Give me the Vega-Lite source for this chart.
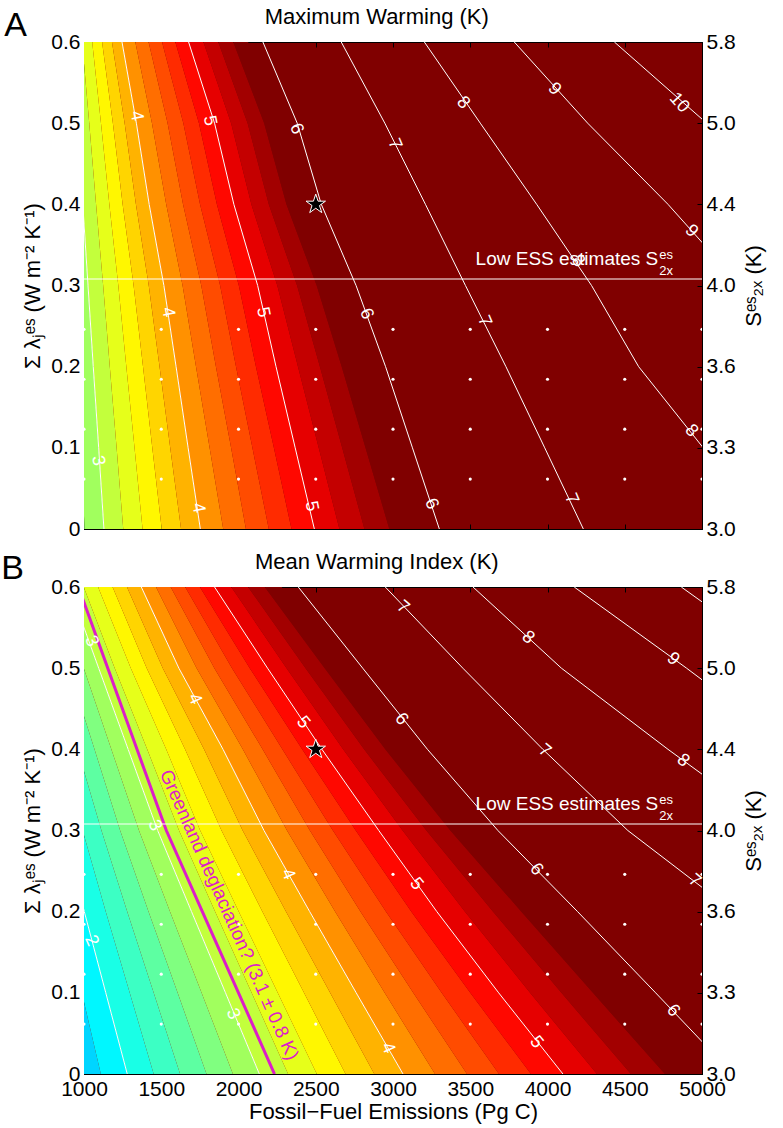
{
"$schema": "https://vega.github.io/schema/vega-lite/v6.json",
"padding": {"left": 0, "top": 5, "right": 5, "bottom": 5},
"spacing": 10,
"datasets": {
"dsIso": [
{"p":"A","l":2.6,"y":0,"x":879},{"p":"A","l":2.6,"y":0.1,"x":863},{"p":"A","l":2.6,"y":0.2,"x":846},{"p":"A","l":2.6,"y":0.3,"x":830},{"p":"A","l":2.6,"y":0.4,"x":820},{"p":"A","l":2.6,"y":0.5,"x":806},{"p":"A","l":2.6,"y":0.6,"x":795},
{"p":"A","l":2.8,"y":0,"x":1004},{"p":"A","l":2.8,"y":0.1,"x":979},{"p":"A","l":2.8,"y":0.2,"x":953},{"p":"A","l":2.8,"y":0.3,"x":928},{"p":"A","l":2.8,"y":0.4,"x":906},{"p":"A","l":2.8,"y":0.5,"x":882},{"p":"A","l":2.8,"y":0.6,"x":860},
{"p":"A","l":3,"y":0,"x":1129},{"p":"A","l":3,"y":0.1,"x":1095},{"p":"A","l":3,"y":0.2,"x":1060},{"p":"A","l":3,"y":0.3,"x":1026},{"p":"A","l":3,"y":0.4,"x":992},{"p":"A","l":3,"y":0.5,"x":958},{"p":"A","l":3,"y":0.6,"x":924},
{"p":"A","l":3.2,"y":0,"x":1254},{"p":"A","l":3.2,"y":0.1,"x":1211},{"p":"A","l":3.2,"y":0.2,"x":1167},{"p":"A","l":3.2,"y":0.3,"x":1124},{"p":"A","l":3.2,"y":0.4,"x":1078},{"p":"A","l":3.2,"y":0.5,"x":1034},{"p":"A","l":3.2,"y":0.6,"x":988},
{"p":"A","l":3.4,"y":0,"x":1379},{"p":"A","l":3.4,"y":0.1,"x":1327},{"p":"A","l":3.4,"y":0.2,"x":1274},{"p":"A","l":3.4,"y":0.3,"x":1222},{"p":"A","l":3.4,"y":0.4,"x":1164},{"p":"A","l":3.4,"y":0.5,"x":1110},{"p":"A","l":3.4,"y":0.6,"x":1053},
{"p":"A","l":3.6,"y":0,"x":1503},{"p":"A","l":3.6,"y":0.1,"x":1442},{"p":"A","l":3.6,"y":0.2,"x":1382},{"p":"A","l":3.6,"y":0.3,"x":1321},{"p":"A","l":3.6,"y":0.4,"x":1250},{"p":"A","l":3.6,"y":0.5,"x":1187},{"p":"A","l":3.6,"y":0.6,"x":1117},
{"p":"A","l":3.8,"y":0,"x":1628},{"p":"A","l":3.8,"y":0.1,"x":1558},{"p":"A","l":3.8,"y":0.2,"x":1489},{"p":"A","l":3.8,"y":0.3,"x":1419},{"p":"A","l":3.8,"y":0.4,"x":1336},{"p":"A","l":3.8,"y":0.5,"x":1263},{"p":"A","l":3.8,"y":0.6,"x":1181},
{"p":"A","l":4,"y":0,"x":1753},{"p":"A","l":4,"y":0.1,"x":1674},{"p":"A","l":4,"y":0.2,"x":1596},{"p":"A","l":4,"y":0.3,"x":1517},{"p":"A","l":4,"y":0.4,"x":1422},{"p":"A","l":4,"y":0.5,"x":1339},{"p":"A","l":4,"y":0.6,"x":1246},
{"p":"A","l":4.2,"y":0,"x":1901},{"p":"A","l":4.2,"y":0.1,"x":1813},{"p":"A","l":4.2,"y":0.2,"x":1725},{"p":"A","l":4.2,"y":0.3,"x":1638},{"p":"A","l":4.2,"y":0.4,"x":1532},{"p":"A","l":4.2,"y":0.5,"x":1440},{"p":"A","l":4.2,"y":0.6,"x":1332},
{"p":"A","l":4.4,"y":0,"x":2048},{"p":"A","l":4.4,"y":0.1,"x":1952},{"p":"A","l":4.4,"y":0.2,"x":1854},{"p":"A","l":4.4,"y":0.3,"x":1759},{"p":"A","l":4.4,"y":0.4,"x":1641},{"p":"A","l":4.4,"y":0.5,"x":1541},{"p":"A","l":4.4,"y":0.6,"x":1418},
{"p":"A","l":4.6,"y":0,"x":2196},{"p":"A","l":4.6,"y":0.1,"x":2090},{"p":"A","l":4.6,"y":0.2,"x":1984},{"p":"A","l":4.6,"y":0.3,"x":1881},{"p":"A","l":4.6,"y":0.4,"x":1751},{"p":"A","l":4.6,"y":0.5,"x":1643},{"p":"A","l":4.6,"y":0.6,"x":1505},
{"p":"A","l":4.8,"y":0,"x":2343},{"p":"A","l":4.8,"y":0.1,"x":2229},{"p":"A","l":4.8,"y":0.2,"x":2113},{"p":"A","l":4.8,"y":0.3,"x":2002},{"p":"A","l":4.8,"y":0.4,"x":1860},{"p":"A","l":4.8,"y":0.5,"x":1744},{"p":"A","l":4.8,"y":0.6,"x":1591},
{"p":"A","l":5,"y":0,"x":2491},{"p":"A","l":5,"y":0.1,"x":2367},{"p":"A","l":5,"y":0.2,"x":2243},{"p":"A","l":5,"y":0.3,"x":2124},{"p":"A","l":5,"y":0.4,"x":1970},{"p":"A","l":5,"y":0.5,"x":1845},{"p":"A","l":5,"y":0.6,"x":1677},
{"p":"A","l":5.2,"y":0,"x":2653},{"p":"A","l":5.2,"y":0.1,"x":2519},{"p":"A","l":5.2,"y":0.2,"x":2385},{"p":"A","l":5.2,"y":0.3,"x":2251},{"p":"A","l":5.2,"y":0.4,"x":2083},{"p":"A","l":5.2,"y":0.5,"x":1952},{"p":"A","l":5.2,"y":0.6,"x":1773},
{"p":"A","l":5.4,"y":0,"x":2815},{"p":"A","l":5.4,"y":0.1,"x":2671},{"p":"A","l":5.4,"y":0.2,"x":2527},{"p":"A","l":5.4,"y":0.3,"x":2379},{"p":"A","l":5.4,"y":0.4,"x":2196},{"p":"A","l":5.4,"y":0.5,"x":2059},{"p":"A","l":5.4,"y":0.6,"x":1869},
{"p":"A","l":5.6,"y":0,"x":2976},{"p":"A","l":5.6,"y":0.1,"x":2822},{"p":"A","l":5.6,"y":0.2,"x":2668},{"p":"A","l":5.6,"y":0.3,"x":2506},{"p":"A","l":5.6,"y":0.4,"x":2310},{"p":"A","l":5.6,"y":0.5,"x":2166},{"p":"A","l":5.6,"y":0.6,"x":1966},
{"p":"A","l":5.8,"y":0,"x":3138},{"p":"A","l":5.8,"y":0.1,"x":2974},{"p":"A","l":5.8,"y":0.2,"x":2810},{"p":"A","l":5.8,"y":0.3,"x":2634},{"p":"A","l":5.8,"y":0.4,"x":2423},{"p":"A","l":5.8,"y":0.5,"x":2273},{"p":"A","l":5.8,"y":0.6,"x":2062},
{"p":"A","l":6,"y":0,"x":3300},{"p":"A","l":6,"y":0.1,"x":3126},{"p":"A","l":6,"y":0.2,"x":2952},{"p":"A","l":6,"y":0.3,"x":2761},{"p":"A","l":6,"y":0.4,"x":2536},{"p":"A","l":6,"y":0.5,"x":2380},{"p":"A","l":6,"y":0.6,"x":2158},
{"p":"A","l":7,"y":0,"x":4232},{"p":"A","l":7,"y":0.1,"x":3982},{"p":"A","l":7,"y":0.2,"x":3731},{"p":"A","l":7,"y":0.3,"x":3469},{"p":"A","l":7,"y":0.4,"x":3210},{"p":"A","l":7,"y":0.5,"x":2947},{"p":"A","l":7,"y":0.6,"x":2665},
{"p":"A","l":8,"y":0,"x":5430},{"p":"A","l":8,"y":0.1,"x":5008},{"p":"A","l":8,"y":0.2,"x":4590},{"p":"A","l":8,"y":0.3,"x":4285},{"p":"A","l":8,"y":0.4,"x":3930},{"p":"A","l":8,"y":0.5,"x":3565},{"p":"A","l":8,"y":0.6,"x":3203},
{"p":"A","l":9,"y":0,"x":6600},{"p":"A","l":9,"y":0.1,"x":6150},{"p":"A","l":9,"y":0.2,"x":5700},{"p":"A","l":9,"y":0.3,"x":5250},{"p":"A","l":9,"y":0.4,"x":4780},{"p":"A","l":9,"y":0.5,"x":4260},{"p":"A","l":9,"y":0.6,"x":3785},
{"p":"A","l":10,"y":0.4,"x":5620},{"p":"A","l":10,"y":0.5,"x":5030},{"p":"A","l":10,"y":0.6,"x":4433},
{"p":"B","l":1.6,"y":0,"x":938},{"p":"B","l":1.6,"y":0.1,"x":831},{"p":"B","l":1.6,"y":0.2,"x":724},{"p":"B","l":1.6,"y":0.3,"x":627},{"p":"B","l":1.6,"y":0.4,"x":522},{"p":"B","l":1.6,"y":0.5,"x":416},{"p":"B","l":1.6,"y":0.6,"x":310},
{"p":"B","l":1.8,"y":0,"x":1109},{"p":"B","l":1.8,"y":0.1,"x":986},{"p":"B","l":1.8,"y":0.2,"x":863},{"p":"B","l":1.8,"y":0.3,"x":749},{"p":"B","l":1.8,"y":0.4,"x":631},{"p":"B","l":1.8,"y":0.5,"x":513},{"p":"B","l":1.8,"y":0.6,"x":395},
{"p":"B","l":2,"y":0,"x":1280},{"p":"B","l":2,"y":0.1,"x":1141},{"p":"B","l":2,"y":0.2,"x":1002},{"p":"B","l":2,"y":0.3,"x":870},{"p":"B","l":2,"y":0.4,"x":740},{"p":"B","l":2,"y":0.5,"x":610},{"p":"B","l":2,"y":0.6,"x":480},
{"p":"B","l":2.2,"y":0,"x":1451},{"p":"B","l":2.2,"y":0.1,"x":1296},{"p":"B","l":2.2,"y":0.2,"x":1141},{"p":"B","l":2.2,"y":0.3,"x":991},{"p":"B","l":2.2,"y":0.4,"x":849},{"p":"B","l":2.2,"y":0.5,"x":707},{"p":"B","l":2.2,"y":0.6,"x":565},
{"p":"B","l":2.4,"y":0,"x":1622},{"p":"B","l":2.4,"y":0.1,"x":1451},{"p":"B","l":2.4,"y":0.2,"x":1280},{"p":"B","l":2.4,"y":0.3,"x":1113},{"p":"B","l":2.4,"y":0.4,"x":958},{"p":"B","l":2.4,"y":0.5,"x":804},{"p":"B","l":2.4,"y":0.6,"x":650},
{"p":"B","l":2.6,"y":0,"x":1793},{"p":"B","l":2.6,"y":0.1,"x":1606},{"p":"B","l":2.6,"y":0.2,"x":1418},{"p":"B","l":2.6,"y":0.3,"x":1234},{"p":"B","l":2.6,"y":0.4,"x":1068},{"p":"B","l":2.6,"y":0.5,"x":901},{"p":"B","l":2.6,"y":0.6,"x":735},
{"p":"B","l":2.8,"y":0,"x":1964},{"p":"B","l":2.8,"y":0.1,"x":1761},{"p":"B","l":2.8,"y":0.2,"x":1557},{"p":"B","l":2.8,"y":0.3,"x":1356},{"p":"B","l":2.8,"y":0.4,"x":1177},{"p":"B","l":2.8,"y":0.5,"x":998},{"p":"B","l":2.8,"y":0.6,"x":820},
{"p":"B","l":3,"y":0,"x":2135},{"p":"B","l":3,"y":0.1,"x":1916},{"p":"B","l":3,"y":0.2,"x":1696},{"p":"B","l":3,"y":0.3,"x":1477},{"p":"B","l":3,"y":0.4,"x":1286},{"p":"B","l":3,"y":0.5,"x":1095},{"p":"B","l":3,"y":0.6,"x":905},
{"p":"B","l":3.2,"y":0,"x":2321},{"p":"B","l":3.2,"y":0.1,"x":2085},{"p":"B","l":3.2,"y":0.2,"x":1849},{"p":"B","l":3.2,"y":0.3,"x":1615},{"p":"B","l":3.2,"y":0.4,"x":1409},{"p":"B","l":3.2,"y":0.5,"x":1199},{"p":"B","l":3.2,"y":0.6,"x":998},
{"p":"B","l":3.4,"y":0,"x":2507},{"p":"B","l":3.4,"y":0.1,"x":2254},{"p":"B","l":3.4,"y":0.2,"x":2002},{"p":"B","l":3.4,"y":0.3,"x":1752},{"p":"B","l":3.4,"y":0.4,"x":1532},{"p":"B","l":3.4,"y":0.5,"x":1303},{"p":"B","l":3.4,"y":0.6,"x":1091},
{"p":"B","l":3.6,"y":0,"x":2693},{"p":"B","l":3.6,"y":0.1,"x":2424},{"p":"B","l":3.6,"y":0.2,"x":2155},{"p":"B","l":3.6,"y":0.3,"x":1890},{"p":"B","l":3.6,"y":0.4,"x":1654},{"p":"B","l":3.6,"y":0.5,"x":1406},{"p":"B","l":3.6,"y":0.6,"x":1185},
{"p":"B","l":3.8,"y":0,"x":2879},{"p":"B","l":3.8,"y":0.1,"x":2593},{"p":"B","l":3.8,"y":0.2,"x":2308},{"p":"B","l":3.8,"y":0.3,"x":2027},{"p":"B","l":3.8,"y":0.4,"x":1777},{"p":"B","l":3.8,"y":0.5,"x":1510},{"p":"B","l":3.8,"y":0.6,"x":1278},
{"p":"B","l":4,"y":0,"x":3065},{"p":"B","l":4,"y":0.1,"x":2762},{"p":"B","l":4,"y":0.2,"x":2461},{"p":"B","l":4,"y":0.3,"x":2165},{"p":"B","l":4,"y":0.4,"x":1900},{"p":"B","l":4,"y":0.5,"x":1614},{"p":"B","l":4,"y":0.6,"x":1371},
{"p":"B","l":4.2,"y":0,"x":3272},{"p":"B","l":4.2,"y":0.1,"x":2946},{"p":"B","l":4.2,"y":0.2,"x":2626},{"p":"B","l":4.2,"y":0.3,"x":2314},{"p":"B","l":4.2,"y":0.4,"x":2028},{"p":"B","l":4.2,"y":0.5,"x":1729},{"p":"B","l":4.2,"y":0.6,"x":1466},
{"p":"B","l":4.4,"y":0,"x":3479},{"p":"B","l":4.4,"y":0.1,"x":3131},{"p":"B","l":4.4,"y":0.2,"x":2790},{"p":"B","l":4.4,"y":0.3,"x":2462},{"p":"B","l":4.4,"y":0.4,"x":2156},{"p":"B","l":4.4,"y":0.5,"x":1844},{"p":"B","l":4.4,"y":0.6,"x":1561},
{"p":"B","l":4.6,"y":0,"x":3686},{"p":"B","l":4.6,"y":0.1,"x":3315},{"p":"B","l":4.6,"y":0.2,"x":2955},{"p":"B","l":4.6,"y":0.3,"x":2611},{"p":"B","l":4.6,"y":0.4,"x":2284},{"p":"B","l":4.6,"y":0.5,"x":1958},{"p":"B","l":4.6,"y":0.6,"x":1655},
{"p":"B","l":4.8,"y":0,"x":3893},{"p":"B","l":4.8,"y":0.1,"x":3500},{"p":"B","l":4.8,"y":0.2,"x":3119},{"p":"B","l":4.8,"y":0.3,"x":2759},{"p":"B","l":4.8,"y":0.4,"x":2412},{"p":"B","l":4.8,"y":0.5,"x":2073},{"p":"B","l":4.8,"y":0.6,"x":1750},
{"p":"B","l":5,"y":0,"x":4100},{"p":"B","l":5,"y":0.1,"x":3684},{"p":"B","l":5,"y":0.2,"x":3284},{"p":"B","l":5,"y":0.3,"x":2908},{"p":"B","l":5,"y":0.4,"x":2540},{"p":"B","l":5,"y":0.5,"x":2188},{"p":"B","l":5,"y":0.6,"x":1845},
{"p":"B","l":5.2,"y":0,"x":4320},{"p":"B","l":5.2,"y":0.1,"x":3887},{"p":"B","l":5.2,"y":0.2,"x":3466},{"p":"B","l":5.2,"y":0.3,"x":3062},{"p":"B","l":5.2,"y":0.4,"x":2677},{"p":"B","l":5.2,"y":0.5,"x":2311},{"p":"B","l":5.2,"y":0.6,"x":1953},
{"p":"B","l":5.4,"y":0,"x":4540},{"p":"B","l":5.4,"y":0.1,"x":4090},{"p":"B","l":5.4,"y":0.2,"x":3648},{"p":"B","l":5.4,"y":0.3,"x":3216},{"p":"B","l":5.4,"y":0.4,"x":2813},{"p":"B","l":5.4,"y":0.5,"x":2434},{"p":"B","l":5.4,"y":0.6,"x":2062},
{"p":"B","l":5.6,"y":0,"x":4760},{"p":"B","l":5.6,"y":0.1,"x":4294},{"p":"B","l":5.6,"y":0.2,"x":3831},{"p":"B","l":5.6,"y":0.3,"x":3371},{"p":"B","l":5.6,"y":0.4,"x":2950},{"p":"B","l":5.6,"y":0.5,"x":2558},{"p":"B","l":5.6,"y":0.6,"x":2170},
{"p":"B","l":5.8,"y":0,"x":4980},{"p":"B","l":5.8,"y":0.1,"x":4497},{"p":"B","l":5.8,"y":0.2,"x":4013},{"p":"B","l":5.8,"y":0.3,"x":3525},{"p":"B","l":5.8,"y":0.4,"x":3086},{"p":"B","l":5.8,"y":0.5,"x":2681},{"p":"B","l":5.8,"y":0.6,"x":2279},
{"p":"B","l":6,"y":0,"x":5200},{"p":"B","l":6,"y":0.1,"x":4700},{"p":"B","l":6,"y":0.2,"x":4195},{"p":"B","l":6,"y":0.3,"x":3679},{"p":"B","l":6,"y":0.4,"x":3223},{"p":"B","l":6,"y":0.5,"x":2804},{"p":"B","l":6,"y":0.6,"x":2387},
{"p":"B","l":7,"y":0,"x":6600},{"p":"B","l":7,"y":0.1,"x":5900},{"p":"B","l":7,"y":0.2,"x":5206},{"p":"B","l":7,"y":0.3,"x":4520},{"p":"B","l":7,"y":0.4,"x":3970},{"p":"B","l":7,"y":0.5,"x":3452},{"p":"B","l":7,"y":0.6,"x":2950},
{"p":"B","l":8,"y":0.3,"x":5500},{"p":"B","l":8,"y":0.4,"x":4780},{"p":"B","l":8,"y":0.5,"x":4090},{"p":"B","l":8,"y":0.6,"x":3518},
{"p":"B","l":9,"y":0.4,"x":5600},{"p":"B","l":9,"y":0.5,"x":4900},{"p":"B","l":9,"y":0.6,"x":4173},
{"p":"B","l":10,"y":0.5,"x":5600},{"p":"B","l":10,"y":0.6,"x":4866}
],
"dsLab": [
{"p":"A","l":4,"x":1339,"y":0.509},{"p":"A","l":5,"x":1813,"y":0.503},{"p":"A","l":6,"x":2374,"y":0.493},{"p":"A","l":7,"x":3010,"y":0.474},{"p":"A","l":8,"x":3453,"y":0.525},{"p":"A","l":9,"x":4044,"y":0.542},{"p":"A","l":10,"x":4853,"y":0.525},{"p":"A","l":9,"x":4931,"y":0.367},{"p":"A","l":8,"x":4197,"y":0.33},{"p":"A","l":8,"x":4931,"y":0.121},{"p":"A","l":7,"x":3591,"y":0.256},{"p":"A","l":7,"x":4154,"y":0.037},{"p":"A","l":6,"x":3248,"y":0.031},{"p":"A","l":6,"x":2827,"y":0.265},{"p":"A","l":5,"x":2158,"y":0.267},{"p":"A","l":5,"x":2471,"y":0.028},{"p":"A","l":4,"x":1543,"y":0.267},{"p":"A","l":4,"x":1738,"y":0.026},{"p":"A","l":3,"x":1090,"y":0.084},
{"p":"B","l":3,"x":1047,"y":0.533},{"p":"B","l":4,"x":1716,"y":0.462},{"p":"B","l":5,"x":2417,"y":0.433},{"p":"B","l":6,"x":3054,"y":0.437},{"p":"B","l":7,"x":3064,"y":0.575},{"p":"B","l":8,"x":3874,"y":0.5375},{"p":"B","l":9,"x":4812,"y":0.511},{"p":"B","l":7,"x":3981,"y":0.398},{"p":"B","l":8,"x":4877,"y":0.386},{"p":"B","l":6,"x":3927,"y":0.252},{"p":"B","l":7,"x":4952,"y":0.238},{"p":"B","l":5,"x":3151,"y":0.234},{"p":"B","l":6,"x":4812,"y":0.078},{"p":"B","l":5,"x":3927,"y":0.039},{"p":"B","l":4,"x":2320,"y":0.246},{"p":"B","l":4,"x":2967,"y":0.032},{"p":"B","l":3,"x":1964,"y":0.074},{"p":"B","l":3,"x":1457,"y":0.306},{"p":"B","l":2,"x":1047,"y":0.164}
],
"dsDots": [
{"x":1000,"y":0.0615},{"x":1500,"y":0.0615},{"x":2000,"y":0.0615},{"x":2500,"y":0.0615},{"x":3000,"y":0.0615},{"x":3500,"y":0.0615},{"x":4000,"y":0.0615},{"x":4500,"y":0.0615},{"x":5000,"y":0.0615},
{"x":1000,"y":0.123},{"x":1500,"y":0.123},{"x":2000,"y":0.123},{"x":2500,"y":0.123},{"x":3000,"y":0.123},{"x":3500,"y":0.123},{"x":4000,"y":0.123},{"x":4500,"y":0.123},{"x":5000,"y":0.123},
{"x":1000,"y":0.1845},{"x":1500,"y":0.1845},{"x":2000,"y":0.1845},{"x":2500,"y":0.1845},{"x":3000,"y":0.1845},{"x":3500,"y":0.1845},{"x":4000,"y":0.1845},{"x":4500,"y":0.1845},{"x":5000,"y":0.1845},
{"x":1000,"y":0.246},{"x":1500,"y":0.246},{"x":2000,"y":0.246},{"x":2500,"y":0.246},{"x":3000,"y":0.246},{"x":3500,"y":0.246},{"x":4000,"y":0.246},{"x":4500,"y":0.246},{"x":5000,"y":0.246}
],
"dsGl": [{"y":0,"x":2233},{"y":0.1,"x":2000},{"y":0.2,"x":1766},{"y":0.3,"x":1533},{"y":0.4,"x":1343},{"y":0.5,"x":1154},{"y":0.6,"x":964}],
"dsStar": [{"x":2500,"y":0.4}],
"dsEss": [{"x":1000,"y":0.308},{"x":5000,"y":0.308}],
"dsNote": [{"x":4717,"y":0.325}],
"dsTtl": [{"x":2895,"y":0.6222}],
"dsLetA": [{"x":484,"y":0.6074}],
"dsLetB": [{"x":465,"y":0.6099}],
"dsGtxt": [{"x":1940,"y":0.196}]
},
"vconcat": [
{
"width": 618, "height": 487,
"view": {"fill": "#800000", "stroke": "#000000", "strokeWidth": 1},
"resolve": {"axis": {"x": "independent", "y": "independent"}},
"layer": [
{"data": {"name": "dsIso"},
 "transform": [{"filter": "datum.p == 'A' && datum.l <= 5.8"},{"window": [{"op": "lead", "field": "x", "as": "xn"}], "groupby": ["y"], "sort": [{"field": "l", "order": "ascending"}]},{"filter": "datum.xn != null"}],
 "mark": {"type": "area", "orient": "horizontal", "clip": true},
 "encoding": {
  "y": {"field": "y", "type": "quantitative", "scale": {"domain": [0, 0.6], "nice": false, "zero": false}, "axis": {"orient": "left", "values": [0,0.1,0.2,0.3,0.4,0.5,0.6], "format": ".1~f", "title": "Σ λⱼᵉˢ (W m⁻² K⁻¹)", "titlePadding": 6, "tickSize": -5, "labelPadding": 9, "labelFontSize": 21, "titleFontSize": 22, "titleFontWeight": "normal", "labelFont": "Liberation Sans", "titleFont": "Liberation Sans", "labelColor": "#000", "titleColor": "#000", "domainColor": "#000", "tickColor": "#000", "labelFlush": false, "grid": false}},
  "x": {"field": "x", "type": "quantitative", "scale": {"domain": [1000, 5000], "nice": false, "zero": false}, "axis": {"orient": "bottom", "values": [1000,1500,2000,2500,3000,3500,4000,4500,5000], "labels": false, "title": null, "tickSize": -5, "domainColor": "#000", "tickColor": "#000", "grid": false}},
  "x2": {"field": "xn"},
  "color": {"field": "l", "type": "quantitative", "scale": {"type": "linear", "domain": [-0.4, 0.35, 1.85, 3.35, 4.85, 5.6], "range": ["#000080","#0000ff","#00ffff","#ffff00","#ff0000","#800000"], "interpolate": "rgb", "clamp": true}, "legend": null},
  "detail": {"field": "l", "type": "quantitative"}
 }},
{"data": {"name": "dsIso"},
 "transform": [{"filter": "datum.p == 'A' && datum.l % 1 == 0"}],
 "mark": {"type": "line", "clip": true, "color": "white", "strokeWidth": 1},
 "encoding": {
  "x": {"field": "x", "type": "quantitative", "scale": {"domain": [1000, 5000], "nice": false, "zero": false}, "axis": {"orient": "top", "values": [1000,1500,2000,2500,3000,3500,4000,4500,5000], "labels": false, "title": null, "tickSize": -5, "domainColor": "#000", "tickColor": "#000", "grid": false}},
  "y": {"field": "y", "type": "quantitative", "scale": {"domain": [0, 0.6], "nice": false, "zero": false}, "axis": {"orient": "right", "values": [0,0.1,0.2,0.3,0.4,0.5,0.6], "labelExpr": "datum.value < 0.05 ? '3.0' : datum.value < 0.15 ? '3.3' : datum.value < 0.25 ? '3.6' : datum.value < 0.35 ? '4.0' : datum.value < 0.45 ? '4.4' : datum.value < 0.55 ? '5.0' : '5.8'", "title": "Sᵉˢ₂ₓ (K)", "titleAngle": 270, "titleBaseline": "top", "titlePadding": 8, "tickSize": -5, "labelPadding": 9, "labelFontSize": 21, "titleFontSize": 22, "titleFontWeight": "normal", "labelFont": "Liberation Sans", "titleFont": "Liberation Sans", "labelColor": "#000", "titleColor": "#000", "domainColor": "#000", "tickColor": "#000", "labelFlush": false, "grid": false}},
  "detail": {"field": "l", "type": "nominal"}
 }},
{"data": {"name": "dsDots"},
 "mark": {"type": "point", "filled": true, "color": "white", "size": 10, "opacity": 1, "clip": true},
 "encoding": {
  "x": {"field": "x", "type": "quantitative", "scale": {"domain": [1000, 5000], "nice": false, "zero": false}, "axis": null},
  "y": {"field": "y", "type": "quantitative", "scale": {"domain": [0, 0.6], "nice": false, "zero": false}, "axis": null}
 }},
{"data": {"name": "dsEss"},
 "mark": {"type": "line", "color": "white", "strokeWidth": 1},
 "encoding": {
  "x": {"field": "x", "type": "quantitative", "scale": {"domain": [1000, 5000], "nice": false, "zero": false}, "axis": null},
  "y": {"field": "y", "type": "quantitative", "scale": {"domain": [0, 0.6], "nice": false, "zero": false}, "axis": null}
 }},
{"data": {"name": "dsStar"},
 "mark": {"type": "point", "shape": "M0,-1L0.2245,-0.309L0.951,-0.309L0.363,0.118L0.588,0.809L0,0.382L-0.588,0.809L-0.363,0.118L-0.951,-0.309L-0.2245,-0.309Z", "filled": true, "fill": "black", "stroke": "white", "strokeWidth": 1, "size": 420, "opacity": 1},
 "encoding": {
  "x": {"field": "x", "type": "quantitative", "scale": {"domain": [1000, 5000], "nice": false, "zero": false}, "axis": null},
  "y": {"field": "y", "type": "quantitative", "scale": {"domain": [0, 0.6], "nice": false, "zero": false}, "axis": null}
 }},
{"data": {"name": "dsLab"},
 "transform": [{"filter": "datum.p == 'A' && datum.l <= 5"}],
 "mark": {"type": "text", "color": "white", "font": "Liberation Sans", "fontSize": 18, "align": "center", "baseline": "middle", "angle": 79},
 "encoding": {
  "x": {"field": "x", "type": "quantitative", "scale": {"domain": [1000, 5000], "nice": false, "zero": false}, "axis": null},
  "y": {"field": "y", "type": "quantitative", "scale": {"domain": [0, 0.6], "nice": false, "zero": false}, "axis": null},
  "text": {"field": "l", "type": "quantitative", "format": "d"}
 }},
{"data": {"name": "dsLab"},
 "transform": [{"filter": "datum.p == 'A' && datum.l >= 6 && datum.l <= 7"}],
 "mark": {"type": "text", "color": "white", "font": "Liberation Sans", "fontSize": 18, "align": "center", "baseline": "middle", "angle": 67},
 "encoding": {
  "x": {"field": "x", "type": "quantitative", "scale": {"domain": [1000, 5000], "nice": false, "zero": false}, "axis": null},
  "y": {"field": "y", "type": "quantitative", "scale": {"domain": [0, 0.6], "nice": false, "zero": false}, "axis": null},
  "text": {"field": "l", "type": "quantitative", "format": "d"}
 }},
{"data": {"name": "dsLab"},
 "transform": [{"filter": "datum.p == 'A' && datum.l >= 8"}],
 "mark": {"type": "text", "color": "white", "font": "Liberation Sans", "fontSize": 18, "align": "center", "baseline": "middle", "angle": 48},
 "encoding": {
  "x": {"field": "x", "type": "quantitative", "scale": {"domain": [1000, 5000], "nice": false, "zero": false}, "axis": null},
  "y": {"field": "y", "type": "quantitative", "scale": {"domain": [0, 0.6], "nice": false, "zero": false}, "axis": null},
  "text": {"field": "l", "type": "quantitative", "format": "d"}
 }},
{"data": {"name": "dsNote"},
 "mark": {"type": "text", "text": "Low ESS estimates S", "color": "white", "font": "Liberation Sans", "fontSize": 19, "align": "right", "baseline": "alphabetic"},
 "encoding": {
  "x": {"field": "x", "type": "quantitative", "scale": {"domain": [1000, 5000], "nice": false, "zero": false}, "axis": null},
  "y": {"field": "y", "type": "quantitative", "scale": {"domain": [0, 0.6], "nice": false, "zero": false}, "axis": null}
 }},
{"data": {"name": "dsNote"},
 "mark": {"type": "text", "text": "es", "color": "white", "font": "Liberation Sans", "fontSize": 13, "align": "left", "baseline": "alphabetic", "dx": 1, "dy": -6},
 "encoding": {
  "x": {"field": "x", "type": "quantitative", "scale": {"domain": [1000, 5000], "nice": false, "zero": false}, "axis": null},
  "y": {"field": "y", "type": "quantitative", "scale": {"domain": [0, 0.6], "nice": false, "zero": false}, "axis": null}
 }},
{"data": {"name": "dsNote"},
 "mark": {"type": "text", "text": "2x", "color": "white", "font": "Liberation Sans", "fontSize": 13, "align": "left", "baseline": "alphabetic", "dx": 1, "dy": 10},
 "encoding": {
  "x": {"field": "x", "type": "quantitative", "scale": {"domain": [1000, 5000], "nice": false, "zero": false}, "axis": null},
  "y": {"field": "y", "type": "quantitative", "scale": {"domain": [0, 0.6], "nice": false, "zero": false}, "axis": null}
 }},
{"data": {"name": "dsTtl"},
 "mark": {"type": "text", "text": "Maximum Warming (K)", "color": "black", "font": "Liberation Sans", "fontSize": 22, "align": "center", "baseline": "alphabetic"},
 "encoding": {
  "x": {"field": "x", "type": "quantitative", "scale": {"domain": [1000, 5000], "nice": false, "zero": false}, "axis": null},
  "y": {"field": "y", "type": "quantitative", "scale": {"domain": [0, 0.6], "nice": false, "zero": false}, "axis": null}
 }},
{"data": {"name": "dsLetA"},
 "mark": {"type": "text", "text": "A", "color": "black", "font": "Liberation Sans", "fontSize": 34, "align": "left", "baseline": "alphabetic"},
 "encoding": {
  "x": {"field": "x", "type": "quantitative", "scale": {"domain": [1000, 5000], "nice": false, "zero": false}, "axis": null},
  "y": {"field": "y", "type": "quantitative", "scale": {"domain": [0, 0.6], "nice": false, "zero": false}, "axis": null}
 }}
]
},
{
"width": 618, "height": 487,
"view": {"fill": "#800000", "stroke": "#000000", "strokeWidth": 1},
"resolve": {"axis": {"x": "independent", "y": "independent"}},
"layer": [
{"data": {"name": "dsIso"},
 "transform": [{"filter": "datum.p == 'B' && datum.l <= 5.8"},{"window": [{"op": "lead", "field": "x", "as": "xn"}], "groupby": ["y"], "sort": [{"field": "l", "order": "ascending"}]},{"filter": "datum.xn != null"}],
 "mark": {"type": "area", "orient": "horizontal", "clip": true},
 "encoding": {
  "y": {"field": "y", "type": "quantitative", "scale": {"domain": [0, 0.6], "nice": false, "zero": false}, "axis": {"orient": "left", "values": [0,0.1,0.2,0.3,0.4,0.5,0.6], "format": ".1~f", "title": "Σ λⱼᵉˢ (W m⁻² K⁻¹)", "titlePadding": 6, "tickSize": -5, "labelPadding": 9, "labelFontSize": 21, "titleFontSize": 22, "titleFontWeight": "normal", "labelFont": "Liberation Sans", "titleFont": "Liberation Sans", "labelColor": "#000", "titleColor": "#000", "domainColor": "#000", "tickColor": "#000", "labelFlush": false, "grid": false}},
  "x": {"field": "x", "type": "quantitative", "scale": {"domain": [1000, 5000], "nice": false, "zero": false}, "axis": {"orient": "bottom", "values": [1000,1500,2000,2500,3000,3500,4000,4500,5000], "format": "d", "title": "Fossil−Fuel Emissions (Pg C)", "titlePadding": 2, "tickSize": -5, "labelPadding": 9, "labelFontSize": 21, "titleFontSize": 22, "titleFontWeight": "normal", "labelFont": "Liberation Sans", "titleFont": "Liberation Sans", "labelColor": "#000", "titleColor": "#000", "domainColor": "#000", "tickColor": "#000", "labelFlush": false, "grid": false}},
  "x2": {"field": "xn"},
  "color": {"field": "l", "type": "quantitative", "scale": {"type": "linear", "domain": [-0.4, 0.35, 1.85, 3.35, 4.85, 5.6], "range": ["#000080","#0000ff","#00ffff","#ffff00","#ff0000","#800000"], "interpolate": "rgb", "clamp": true}, "legend": null},
  "detail": {"field": "l", "type": "quantitative"}
 }},
{"data": {"name": "dsIso"},
 "transform": [{"filter": "datum.p == 'B' && datum.l % 1 == 0"}],
 "mark": {"type": "line", "clip": true, "color": "white", "strokeWidth": 1},
 "encoding": {
  "x": {"field": "x", "type": "quantitative", "scale": {"domain": [1000, 5000], "nice": false, "zero": false}, "axis": {"orient": "top", "values": [1000,1500,2000,2500,3000,3500,4000,4500,5000], "labels": false, "title": null, "tickSize": -5, "domainColor": "#000", "tickColor": "#000", "grid": false}},
  "y": {"field": "y", "type": "quantitative", "scale": {"domain": [0, 0.6], "nice": false, "zero": false}, "axis": {"orient": "right", "values": [0,0.1,0.2,0.3,0.4,0.5,0.6], "labelExpr": "datum.value < 0.05 ? '3.0' : datum.value < 0.15 ? '3.3' : datum.value < 0.25 ? '3.6' : datum.value < 0.35 ? '4.0' : datum.value < 0.45 ? '4.4' : datum.value < 0.55 ? '5.0' : '5.8'", "title": "Sᵉˢ₂ₓ (K)", "titleAngle": 270, "titleBaseline": "top", "titlePadding": 8, "tickSize": -5, "labelPadding": 9, "labelFontSize": 21, "titleFontSize": 22, "titleFontWeight": "normal", "labelFont": "Liberation Sans", "titleFont": "Liberation Sans", "labelColor": "#000", "titleColor": "#000", "domainColor": "#000", "tickColor": "#000", "labelFlush": false, "grid": false}},
  "detail": {"field": "l", "type": "nominal"}
 }},
{"data": {"name": "dsGl"},
 "mark": {"type": "line", "clip": true, "color": "#dc1ec8", "strokeWidth": 3},
 "encoding": {
  "x": {"field": "x", "type": "quantitative", "scale": {"domain": [1000, 5000], "nice": false, "zero": false}, "axis": null},
  "y": {"field": "y", "type": "quantitative", "scale": {"domain": [0, 0.6], "nice": false, "zero": false}, "axis": null}
 }},
{"data": {"name": "dsDots"},
 "mark": {"type": "point", "filled": true, "color": "white", "size": 10, "opacity": 1, "clip": true},
 "encoding": {
  "x": {"field": "x", "type": "quantitative", "scale": {"domain": [1000, 5000], "nice": false, "zero": false}, "axis": null},
  "y": {"field": "y", "type": "quantitative", "scale": {"domain": [0, 0.6], "nice": false, "zero": false}, "axis": null}
 }},
{"data": {"name": "dsEss"},
 "mark": {"type": "line", "color": "white", "strokeWidth": 1},
 "encoding": {
  "x": {"field": "x", "type": "quantitative", "scale": {"domain": [1000, 5000], "nice": false, "zero": false}, "axis": null},
  "y": {"field": "y", "type": "quantitative", "scale": {"domain": [0, 0.6], "nice": false, "zero": false}, "axis": null}
 }},
{"data": {"name": "dsStar"},
 "mark": {"type": "point", "shape": "M0,-1L0.2245,-0.309L0.951,-0.309L0.363,0.118L0.588,0.809L0,0.382L-0.588,0.809L-0.363,0.118L-0.951,-0.309L-0.2245,-0.309Z", "filled": true, "fill": "black", "stroke": "white", "strokeWidth": 1, "size": 420, "opacity": 1},
 "encoding": {
  "x": {"field": "x", "type": "quantitative", "scale": {"domain": [1000, 5000], "nice": false, "zero": false}, "axis": null},
  "y": {"field": "y", "type": "quantitative", "scale": {"domain": [0, 0.6], "nice": false, "zero": false}, "axis": null}
 }},
{"data": {"name": "dsLab"},
 "transform": [{"filter": "datum.p == 'B' && datum.l <= 4"}],
 "mark": {"type": "text", "color": "white", "font": "Liberation Sans", "fontSize": 18, "align": "center", "baseline": "middle", "angle": 66},
 "encoding": {
  "x": {"field": "x", "type": "quantitative", "scale": {"domain": [1000, 5000], "nice": false, "zero": false}, "axis": null},
  "y": {"field": "y", "type": "quantitative", "scale": {"domain": [0, 0.6], "nice": false, "zero": false}, "axis": null},
  "text": {"field": "l", "type": "quantitative", "format": "d"}
 }},
{"data": {"name": "dsLab"},
 "transform": [{"filter": "datum.p == 'B' && datum.l >= 5 && datum.l <= 6"}],
 "mark": {"type": "text", "color": "white", "font": "Liberation Sans", "fontSize": 18, "align": "center", "baseline": "middle", "angle": 51},
 "encoding": {
  "x": {"field": "x", "type": "quantitative", "scale": {"domain": [1000, 5000], "nice": false, "zero": false}, "axis": null},
  "y": {"field": "y", "type": "quantitative", "scale": {"domain": [0, 0.6], "nice": false, "zero": false}, "axis": null},
  "text": {"field": "l", "type": "quantitative", "format": "d"}
 }},
{"data": {"name": "dsLab"},
 "transform": [{"filter": "datum.p == 'B' && datum.l >= 7"}],
 "mark": {"type": "text", "color": "white", "font": "Liberation Sans", "fontSize": 18, "align": "center", "baseline": "middle", "angle": 40},
 "encoding": {
  "x": {"field": "x", "type": "quantitative", "scale": {"domain": [1000, 5000], "nice": false, "zero": false}, "axis": null},
  "y": {"field": "y", "type": "quantitative", "scale": {"domain": [0, 0.6], "nice": false, "zero": false}, "axis": null},
  "text": {"field": "l", "type": "quantitative", "format": "d"}
 }},
{"data": {"name": "dsNote"},
 "mark": {"type": "text", "text": "Low ESS estimates S", "color": "white", "font": "Liberation Sans", "fontSize": 19, "align": "right", "baseline": "alphabetic"},
 "encoding": {
  "x": {"field": "x", "type": "quantitative", "scale": {"domain": [1000, 5000], "nice": false, "zero": false}, "axis": null},
  "y": {"field": "y", "type": "quantitative", "scale": {"domain": [0, 0.6], "nice": false, "zero": false}, "axis": null}
 }},
{"data": {"name": "dsNote"},
 "mark": {"type": "text", "text": "es", "color": "white", "font": "Liberation Sans", "fontSize": 13, "align": "left", "baseline": "alphabetic", "dx": 1, "dy": -6},
 "encoding": {
  "x": {"field": "x", "type": "quantitative", "scale": {"domain": [1000, 5000], "nice": false, "zero": false}, "axis": null},
  "y": {"field": "y", "type": "quantitative", "scale": {"domain": [0, 0.6], "nice": false, "zero": false}, "axis": null}
 }},
{"data": {"name": "dsNote"},
 "mark": {"type": "text", "text": "2x", "color": "white", "font": "Liberation Sans", "fontSize": 13, "align": "left", "baseline": "alphabetic", "dx": 1, "dy": 10},
 "encoding": {
  "x": {"field": "x", "type": "quantitative", "scale": {"domain": [1000, 5000], "nice": false, "zero": false}, "axis": null},
  "y": {"field": "y", "type": "quantitative", "scale": {"domain": [0, 0.6], "nice": false, "zero": false}, "axis": null}
 }},
{"data": {"name": "dsGtxt"},
 "mark": {"type": "text", "text": "Greenland deglaciation? (3.1 ± 0.8 K)", "color": "#dc1ec8", "font": "Liberation Sans", "fontSize": 19, "align": "center", "baseline": "middle", "angle": 66},
 "encoding": {
  "x": {"field": "x", "type": "quantitative", "scale": {"domain": [1000, 5000], "nice": false, "zero": false}, "axis": null},
  "y": {"field": "y", "type": "quantitative", "scale": {"domain": [0, 0.6], "nice": false, "zero": false}, "axis": null}
 }},
{"data": {"name": "dsTtl"},
 "mark": {"type": "text", "text": "Mean Warming Index (K)", "color": "black", "font": "Liberation Sans", "fontSize": 22, "align": "center", "baseline": "alphabetic"},
 "encoding": {
  "x": {"field": "x", "type": "quantitative", "scale": {"domain": [1000, 5000], "nice": false, "zero": false}, "axis": null},
  "y": {"field": "y", "type": "quantitative", "scale": {"domain": [0, 0.6], "nice": false, "zero": false}, "axis": null}
 }},
{"data": {"name": "dsLetB"},
 "mark": {"type": "text", "text": "B", "color": "black", "font": "Liberation Sans", "fontSize": 34, "align": "left", "baseline": "alphabetic"},
 "encoding": {
  "x": {"field": "x", "type": "quantitative", "scale": {"domain": [1000, 5000], "nice": false, "zero": false}, "axis": null},
  "y": {"field": "y", "type": "quantitative", "scale": {"domain": [0, 0.6], "nice": false, "zero": false}, "axis": null}
 }}
]
}
]
}
